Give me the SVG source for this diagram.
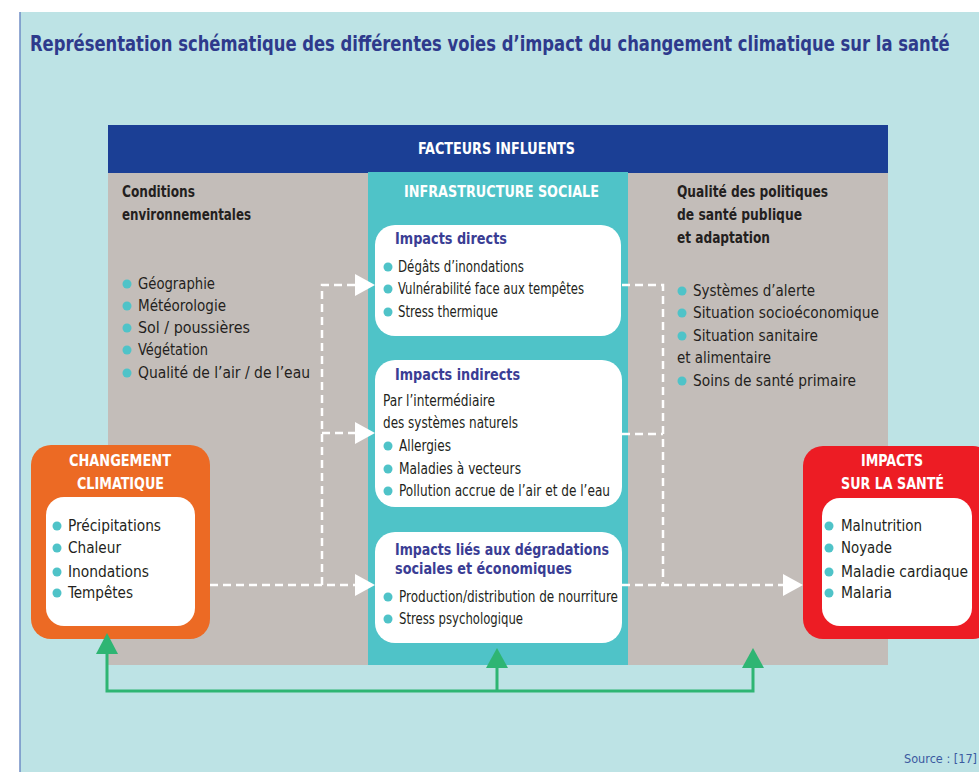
<svg xmlns="http://www.w3.org/2000/svg" width="979" height="772" viewBox="0 0 979 772">
<style>
text{font-family:"Liberation Sans Narrow","DejaVu Sans Condensed","Roboto",sans-serif}
.t{font-size:15px;fill:#231f20}
.l{font-size:16px;fill:#231f20}
.h{font-size:16px;fill:#231f20;font-weight:bold}
.bt{font-size:16px;fill:#3a3d94;font-weight:bold}
.w{font-size:16px;fill:#ffffff;font-weight:bold}
.dot{fill:#4fc3c8}
.dash{fill:none;stroke:#ffffff;stroke-width:2.5;stroke-dasharray:8 5}
.arr{fill:#ffffff}
.g{fill:none;stroke:#2eb573;stroke-width:3}
.ga{fill:#2eb573}
</style>
<rect x="0" y="0" width="979" height="772" fill="#ffffff"/>
<rect x="20" y="12" width="959" height="760" fill="#bde3e5"/>
<line x1="20" y1="12" x2="20" y2="772" stroke="#6f8cc4" stroke-width="1.5"/>
<text transform="translate(30,51) scale(0.87,1)" x="0" y="0" font-size="21" font-weight="bold" fill="#2e3a8c" textLength="1057" lengthAdjust="spacingAndGlyphs">Représentation schématique des différentes voies d’impact du changement climatique sur la santé</text>

<g id="panel">
<rect x="108" y="125" width="780" height="48" fill="#1b3f95"/>
<rect x="108" y="173" width="780" height="492" fill="#c3bdb9"/>
<rect x="368" y="172" width="260" height="493" fill="#4fc3c8"/>
<text x="418" y="154" class="w" textLength="157" lengthAdjust="spacingAndGlyphs">FACTEURS INFLUENTS</text>
<text x="404" y="197" class="w" textLength="195" lengthAdjust="spacingAndGlyphs">INFRASTRUCTURE SOCIALE</text>
</g>

<g id="env">
<text x="122" y="197" class="h" textLength="73" lengthAdjust="spacingAndGlyphs">Conditions</text>
<text x="122" y="220" class="h" textLength="129" lengthAdjust="spacingAndGlyphs">environnementales</text>
<circle cx="127" cy="284" r="4.5" class="dot"/><text x="138" y="289" class="l" textLength="77" lengthAdjust="spacingAndGlyphs">Géographie</text>
<circle cx="127" cy="306" r="4.5" class="dot"/><text x="138" y="311" class="l" textLength="88" lengthAdjust="spacingAndGlyphs">Météorologie</text>
<circle cx="127" cy="328" r="4.5" class="dot"/><text x="138" y="333" class="l" textLength="112" lengthAdjust="spacingAndGlyphs">Sol / poussières</text>
<circle cx="127" cy="350" r="4.5" class="dot"/><text x="138" y="355" class="l" textLength="70" lengthAdjust="spacingAndGlyphs">Végétation</text>
<circle cx="127" cy="373" r="4.5" class="dot"/><text x="138" y="378" class="l" textLength="172" lengthAdjust="spacingAndGlyphs">Qualité de l’air / de l’eau</text>
</g>

<g id="politiques">
<text x="677" y="197" class="h" textLength="151" lengthAdjust="spacingAndGlyphs">Qualité des politiques</text>
<text x="677" y="220" class="h" textLength="125" lengthAdjust="spacingAndGlyphs">de santé publique</text>
<text x="677" y="243" class="h" textLength="93" lengthAdjust="spacingAndGlyphs">et adaptation</text>
<circle cx="682" cy="291" r="4.5" class="dot"/><text x="693" y="296" class="l" textLength="122" lengthAdjust="spacingAndGlyphs">Systèmes d’alerte</text>
<circle cx="682" cy="313" r="4.5" class="dot"/><text x="693" y="318" class="l" textLength="186" lengthAdjust="spacingAndGlyphs">Situation socioéconomique</text>
<circle cx="682" cy="336" r="4.5" class="dot"/><text x="693" y="341" class="l" textLength="125" lengthAdjust="spacingAndGlyphs">Situation sanitaire</text>
<text x="677" y="363" class="l" textLength="94" lengthAdjust="spacingAndGlyphs">et alimentaire</text>
<circle cx="682" cy="381" r="4.5" class="dot"/><text x="693" y="386" class="l" textLength="163" lengthAdjust="spacingAndGlyphs">Soins de santé primaire</text>
</g>

<g id="directs">
<rect x="375" y="225" width="246" height="111" rx="20" fill="#ffffff"/>
<text x="395" y="244" class="bt" textLength="112" lengthAdjust="spacingAndGlyphs">Impacts directs</text>
<circle cx="388" cy="267" r="4.5" class="dot"/><text x="398" y="272" class="t" textLength="126" lengthAdjust="spacingAndGlyphs">Dégâts d’inondations</text>
<circle cx="388" cy="289" r="4.5" class="dot"/><text x="398" y="294" class="t" textLength="186" lengthAdjust="spacingAndGlyphs">Vulnérabilité face aux tempêtes</text>
<circle cx="388" cy="312" r="4.5" class="dot"/><text x="398" y="317" class="t" textLength="100" lengthAdjust="spacingAndGlyphs">Stress thermique</text>
</g>

<g id="indirects">
<rect x="375" y="360" width="247" height="147" rx="20" fill="#ffffff"/>
<text x="395" y="380" class="bt" textLength="125" lengthAdjust="spacingAndGlyphs">Impacts indirects</text>
<text x="383" y="406" class="t" textLength="112" lengthAdjust="spacingAndGlyphs">Par l’intermédiaire</text>
<text x="383" y="428" class="t" textLength="135" lengthAdjust="spacingAndGlyphs">des systèmes naturels</text>
<circle cx="388" cy="446" r="4.5" class="dot"/><text x="399" y="451" class="t" textLength="52" lengthAdjust="spacingAndGlyphs">Allergies</text>
<circle cx="388" cy="469" r="4.5" class="dot"/><text x="399" y="474" class="t" textLength="122" lengthAdjust="spacingAndGlyphs">Maladies à vecteurs</text>
<circle cx="388" cy="491" r="4.5" class="dot"/><text x="399" y="496" class="t" textLength="211" lengthAdjust="spacingAndGlyphs">Pollution accrue de l’air et de l’eau</text>
</g>

<g id="degradations">
<rect x="375" y="532" width="247" height="111" rx="20" fill="#ffffff"/>
<text x="395" y="555" class="bt" textLength="214" lengthAdjust="spacingAndGlyphs">Impacts liés aux dégradations</text>
<text x="395" y="574" class="bt" textLength="177" lengthAdjust="spacingAndGlyphs">sociales et économiques</text>
<circle cx="388" cy="597" r="4.5" class="dot"/><text x="399" y="602" class="t" textLength="219" lengthAdjust="spacingAndGlyphs">Production/distribution de nourriture</text>
<circle cx="388" cy="619" r="4.5" class="dot"/><text x="399" y="624" class="t" textLength="124" lengthAdjust="spacingAndGlyphs">Stress psychologique</text>
</g>

<g id="changement">
<rect x="31" y="445" width="179" height="194" rx="20" fill="#ec6a24"/>
<text x="69" y="466" class="w" textLength="102" lengthAdjust="spacingAndGlyphs">CHANGEMENT</text>
<text x="77" y="489" class="w" textLength="87" lengthAdjust="spacingAndGlyphs">CLIMATIQUE</text>
<rect x="46" y="497" width="149" height="129" rx="18" fill="#ffffff"/>
<circle cx="57" cy="526" r="4.5" class="dot"/><text x="68" y="531" class="l" textLength="93" lengthAdjust="spacingAndGlyphs">Précipitations</text>
<circle cx="57" cy="548" r="4.5" class="dot"/><text x="68" y="553" class="l" textLength="53" lengthAdjust="spacingAndGlyphs">Chaleur</text>
<circle cx="57" cy="572" r="4.5" class="dot"/><text x="68" y="577" class="l" textLength="81" lengthAdjust="spacingAndGlyphs">Inondations</text>
<circle cx="57" cy="593" r="4.5" class="dot"/><text x="68" y="598" class="l" textLength="65" lengthAdjust="spacingAndGlyphs">Tempêtes</text>
</g>

<g id="sante">
<rect x="803" y="446" width="190" height="193" rx="20" fill="#ed1c24"/>
<text x="861" y="466" class="w" textLength="62" lengthAdjust="spacingAndGlyphs">IMPACTS</text>
<text x="841" y="489" class="w" textLength="103" lengthAdjust="spacingAndGlyphs">SUR LA SANTÉ</text>
<rect x="822" y="498" width="150" height="128" rx="18" fill="#ffffff"/>
<circle cx="829" cy="526" r="4.5" class="dot"/><text x="841" y="531" class="l" textLength="81" lengthAdjust="spacingAndGlyphs">Malnutrition</text>
<circle cx="829" cy="548" r="4.5" class="dot"/><text x="841" y="553" class="l" textLength="51" lengthAdjust="spacingAndGlyphs">Noyade</text>
<circle cx="829" cy="572" r="4.5" class="dot"/><text x="841" y="577" class="l" textLength="127" lengthAdjust="spacingAndGlyphs">Maladie cardiaque</text>
<circle cx="829" cy="593" r="4.5" class="dot"/><text x="841" y="598" class="l" textLength="51" lengthAdjust="spacingAndGlyphs">Malaria</text>
</g>

<g id="connectors">
<path class="dash" d="M210 585 H356 M322 585 V285 H356 M322 433 H356"/>
<polygon class="arr" points="355,574 375,585 355,596"/>
<polygon class="arr" points="355,274 375,285 355,296"/>
<polygon class="arr" points="355,422 375,433 355,444"/>
<path class="dash" d="M622 285 H663 V585 M622 434 H663 M622 585 H784"/>
<polygon class="arr" points="783,574 803,585 783,596"/>
<path class="g" d="M107 652 V691 H753 V667 M497 691 V667"/>
<polygon class="ga" points="96,654 107,633 118,654"/>
<polygon class="ga" points="486,668 497,648 508,668"/>
<polygon class="ga" points="742,668 753,648 764,668"/>
</g>

<text x="904" y="763" font-size="11.5" fill="#3b5aa0" textLength="73" lengthAdjust="spacingAndGlyphs">Source : [17]</text>
</svg>
